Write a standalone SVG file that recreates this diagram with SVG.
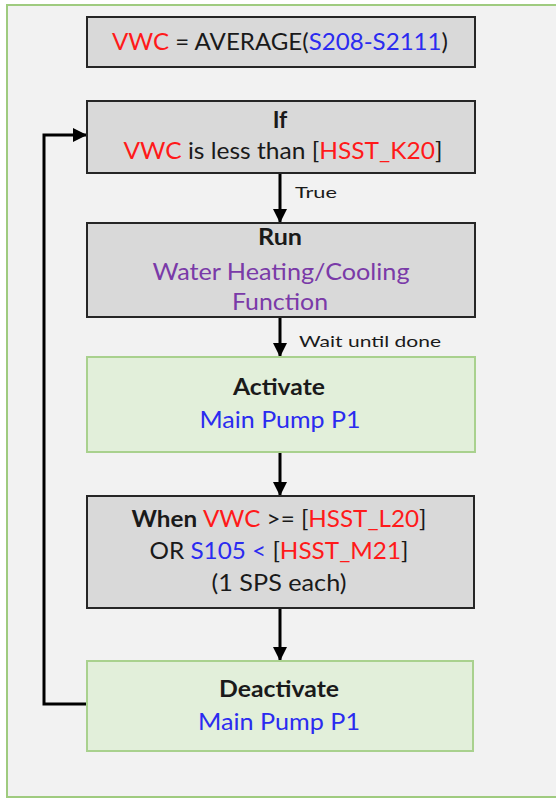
<svg xmlns="http://www.w3.org/2000/svg" width="556" height="799" viewBox="0 0 556 799">
  <defs>
    <marker id="arrow" markerWidth="14" markerHeight="14" refX="13" refY="7" orient="auto" markerUnits="userSpaceOnUse">
      <path d="M0,0 L14,7 L0,14 Z" fill="#000"/>
    </marker>
  </defs>
  <style>
    .frame { fill: #f2f2f2; stroke: #9fcb7f; stroke-width: 2; }
    .gray { fill: #d9d9d9; stroke: #262626; stroke-width: 2; }
    .green { fill: #e2efda; stroke: #a9d18e; stroke-width: 2; }
    .t { font-family: "Lato", "Liberation Sans", sans-serif; font-size: 23px; fill: #1a1a1a; text-anchor: middle; }
    .lbl { font-family: "Lato", "Liberation Sans", sans-serif; font-size: 16px; fill: #1a1a1a; }
    .b { font-weight: bold; }
    .red { fill: #ff1a1a; }
    .blue { fill: #2b2bf0; }
    .purple { fill: #7a3aa8; }
    .conn { fill: none; stroke: #000; stroke-width: 3; }
  </style>

  <rect width="556" height="799" fill="#ffffff"/>
  <rect class="frame" x="7" y="5" width="570" height="792"/>

  <g id="connectors">
    <line class="conn" x1="280" y1="173" x2="280" y2="222" marker-end="url(#arrow)"/>
    <line class="conn" x1="280" y1="317" x2="280" y2="356" marker-end="url(#arrow)"/>
    <line class="conn" x1="280" y1="452" x2="280" y2="495" marker-end="url(#arrow)"/>
    <line class="conn" x1="280" y1="608" x2="280" y2="660" marker-end="url(#arrow)"/>
    <polyline class="conn" points="87,704 44,704 44,135 86,135" marker-end="url(#arrow)"/>
    <text class="lbl" x="295" y="198" textLength="42" lengthAdjust="spacingAndGlyphs">True</text>
    <text class="lbl" x="299" y="347" textLength="142" lengthAdjust="spacingAndGlyphs">Wait until done</text>
  </g>

  <g id="node-vwc">
    <rect class="gray" x="87" y="17" width="388" height="50"/>
    <text class="t" x="280" y="50" textLength="336" lengthAdjust="spacingAndGlyphs"><tspan class="red">VWC</tspan> = AVERAGE(<tspan class="blue">S208-S2111</tspan>)</text>
  </g>

  <g id="node-if">
    <rect class="gray" x="87" y="101" width="388" height="72"/>
    <text class="t b" x="280" y="128">If</text>
    <text class="t" x="283" y="159" textLength="319" lengthAdjust="spacingAndGlyphs"><tspan class="red">VWC</tspan> is less than [<tspan class="red">HSST_K20</tspan>]</text>
  </g>

  <g id="node-run">
    <rect class="gray" x="87" y="223" width="388" height="94"/>
    <text class="t b" x="280" y="245" textLength="44" lengthAdjust="spacingAndGlyphs">Run</text>
    <text class="t purple" x="281" y="280" textLength="257" lengthAdjust="spacingAndGlyphs">Water Heating/Cooling</text>
    <text class="t purple" x="280" y="310" textLength="96" lengthAdjust="spacingAndGlyphs">Function</text>
  </g>

  <g id="node-activate">
    <rect class="green" x="87" y="357" width="388" height="95"/>
    <text class="t b" x="279" y="395" textLength="92" lengthAdjust="spacingAndGlyphs">Activate</text>
    <text class="t blue" x="280" y="428" textLength="161" lengthAdjust="spacingAndGlyphs">Main Pump P1</text>
  </g>

  <g id="node-when">
    <rect class="gray" x="87" y="496" width="387" height="112"/>
    <text class="t" x="279" y="527" textLength="295" lengthAdjust="spacingAndGlyphs"><tspan class="b">When </tspan><tspan class="red">VWC</tspan> &gt;= [<tspan class="red">HSST_L20</tspan>]</text>
    <text class="t" x="279" y="559" textLength="259" lengthAdjust="spacingAndGlyphs">OR <tspan class="blue">S105 &lt; </tspan>[<tspan class="red">HSST_M21</tspan>]</text>
    <text class="t" x="279" y="591" textLength="135" lengthAdjust="spacingAndGlyphs">(1 SPS each)</text>
  </g>

  <g id="node-deactivate">
    <rect class="green" x="87" y="661" width="386" height="90"/>
    <text class="t b" x="279" y="697" textLength="120" lengthAdjust="spacingAndGlyphs">Deactivate</text>
    <text class="t blue" x="279" y="730" textLength="162" lengthAdjust="spacingAndGlyphs">Main Pump P1</text>
  </g>
</svg>
